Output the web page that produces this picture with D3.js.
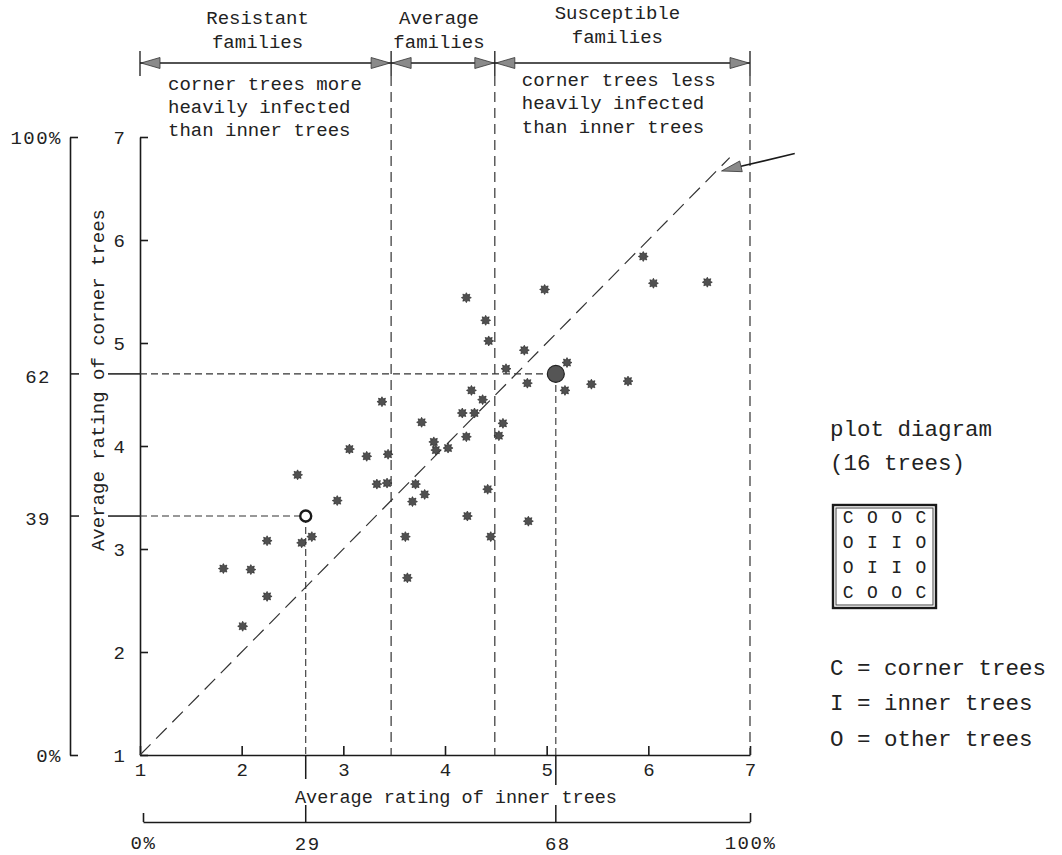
<!DOCTYPE html>
<html>
<head>
<meta charset="utf-8">
<script src="https://cdn.jsdelivr.net/npm/d3@7/dist/d3.min.js"></script>
<style>
  html, body { margin: 0; padding: 0; background: #fff; }
  svg { display: block; }
  text { font-family: "Liberation Mono", "Courier New", monospace; fill: #222; }
</style>
</head>
<body>
<svg id="chart" width="1062" height="855"></svg>
<script>
// ---------------- data ----------------
const innerRating = [1.82,2.09,2.01,2.25,2.25,2.55,2.59,2.69,2.94,3.06,3.23,3.33,3.43,3.44,3.38,3.61,3.63,3.68,3.71,3.80,3.77,3.89,3.91,4.03,
  4.17,4.29,4.21,4.21,4.22,4.26,4.37,4.40,4.43,4.42,4.45,4.53,4.57,4.60,4.78,4.81,4.82,4.98,5.20,5.18,5.44,5.80,5.95,6.05,6.58];
const cornerRating = [2.81,2.80,2.25,3.08,2.54,3.72,3.06,3.12,3.47,3.97,3.90,3.63,3.64,3.92,4.43,3.12,2.72,3.46,3.63,3.53,4.23,4.04,3.96,3.98,
  4.32,4.32,4.09,5.44,3.32,4.54,4.45,5.22,5.02,3.58,3.12,4.10,4.22,4.75,4.93,4.61,3.27,5.52,4.81,4.54,4.60,4.63,5.84,5.58,5.59];
const ratingTicks = [1,2,3,4,5,6,7];
const pctTicks = [0, 100];
// highlighted families
const markedInner = [2.63, 5.09];
const markedCorner = [3.32, 4.70];
const markedPctInner = ["29", "68"];
const markedPctCorner = ["39", "62"];
const markedStyle = ["open", "filled"];
// family class boundaries (on inner-tree rating)
const classBounds = [1, 3.47, 4.49, 7];
const classLabels = [["Resistant","families"],["Average","families"],["Susceptible","families"]];
const noteLeft = ["corner trees more","heavily infected","than inner trees"];
const noteRight = ["corner trees less","heavily infected","than inner trees"];
const diagonalEnds = [1, 6.8];
const arrowFrom = [7.44, 6.84];
const arrowTo = [6.72, 6.67];
const plotGrid = [["C","O","O","C"],["O","I","I","O"],["O","I","I","O"],["C","O","O","C"]];
const legendTitle = ["plot diagram","(16 trees)"];
const legendLines = ["C = corner trees","I = inner trees","O = other trees"];
const xTitle = "Average rating of inner trees";
const yTitle = "Average rating of corner trees";

// ---------------- setup ----------------
const svg = d3.select("#chart");
svg.append("rect").attr("width",1062).attr("height",855).attr("fill","#fff");

const x = d3.scaleLinear().domain([1,7]).range([140,750]);
const y = d3.scaleLinear().domain([1,7]).range([755,137]);
const pctY = d3.scaleLinear().domain([0,100]).range([755,137]);
const pctX = d3.scaleLinear().domain([0,100]).range([143,750]);

const ink = "#1a1a1a";

// ---------------- axes ----------------
const yAxis = svg.append("g").attr("transform",`translate(${x(1)},0)`)
  .call(d3.axisLeft(y).tickValues(ratingTicks).tickFormat(d3.format("d")).tickSize(-8).tickSizeOuter(0).tickPadding(15));
const xAxis = svg.append("g").attr("transform",`translate(0,${y(1)})`)
  .call(d3.axisBottom(x).tickValues(ratingTicks).tickFormat(d3.format("d")).tickSize(-9).tickSizeOuter(0).tickPadding(8));
const pyAxis = svg.append("g").attr("transform",`translate(70,0)`)
  .call(d3.axisLeft(pctY).tickValues(pctTicks).tickFormat(d=>d+"%").tickSize(-8).tickSizeOuter(0).tickPadding(8));
const pxAxis = svg.append("g").attr("transform",`translate(0,822)`)
  .call(d3.axisBottom(pctX).tickValues(pctTicks).tickFormat(d=>d+"%").tickSize(-9).tickSizeOuter(0).tickPadding(14));

[yAxis,xAxis,pyAxis,pxAxis].forEach(g=>{
  g.selectAll(".domain").attr("stroke",ink).attr("stroke-width",1.6);
  g.selectAll(".tick line").attr("stroke",ink).attr("stroke-width",1.6);
  g.selectAll(".tick text").attr("font-family","Liberation Mono, monospace").attr("font-size",19).attr("fill","#222");
});
pyAxis.selectAll(".tick text").attr("letter-spacing",1.5);
pxAxis.selectAll(".tick text").attr("letter-spacing",1.5);

// axis titles
svg.append("text").attr("x",456).attr("y",797).attr("dy","0.35em")
  .attr("text-anchor","middle").attr("font-size",18.5).text(xTitle);
svg.append("text").attr("transform",`translate(97,380) rotate(-90)`).attr("dy","0.35em")
  .attr("text-anchor","middle").attr("font-size",19).text(yTitle);

// ---------------- class boundaries and top brackets ----------------
const bracketY = 63;
classBounds.forEach((b,i)=>{
  svg.append("line").attr("x1",x(b)).attr("x2",x(b)).attr("y1",51).attr("y2",76)
    .attr("stroke",ink).attr("stroke-width",1.3);
  if (i>0) {
    svg.append("line").attr("x1",x(b)).attr("x2",x(b)).attr("y1",76).attr("y2",y(1))
      .attr("stroke","#333").attr("stroke-width",1.2).attr("stroke-dasharray","10,6");
  }
});
svg.append("line").attr("x1",x(classBounds[0])).attr("x2",x(classBounds[3]))
  .attr("y1",bracketY).attr("y2",bracketY).attr("stroke",ink).attr("stroke-width",1.6);
function arrowHead(tipX, tipY, dir){ // dir: -1 pointing left, +1 pointing right
  const L=19, H=5.5;
  return `M${tipX},${tipY} L${tipX - dir*L},${tipY-H} L${tipX - dir*L},${tipY+H} Z`;
}
for (let i=0;i<3;i++){
  const a=x(classBounds[i])+1, b=x(classBounds[i+1])-1;
  svg.append("path").attr("d",arrowHead(a,bracketY,-1)).attr("fill","#8a8a8a").attr("stroke","#333").attr("stroke-width",0.8);
  svg.append("path").attr("d",arrowHead(b,bracketY,1)).attr("fill","#8a8a8a").attr("stroke","#333").attr("stroke-width",0.8);
  const cx=(x(classBounds[i])+x(classBounds[i+1]))/2 - (i===0?8:(i===1?4:5));
  const topY = i===2 ? 12 : 17;
  classLabels[i].forEach((t,j)=>{
    svg.append("text").attr("x",cx).attr("y",topY+j*24).attr("dy","0.35em")
      .attr("text-anchor","middle").attr("font-size",19).text(t);
  });
}
noteLeft.forEach((t,j)=>{
  svg.append("text").attr("x",x(classBounds[0])+28).attr("y",83+j*23).attr("dy","0.35em")
    .attr("font-size",19).text(t);
});
noteRight.forEach((t,j)=>{
  svg.append("text").attr("x",x(classBounds[2])+27).attr("y",79+j*23.5).attr("dy","0.35em")
    .attr("font-size",19).text(t);
});

// ---------------- diagonal ----------------
svg.append("line").attr("x1",x(diagonalEnds[0])).attr("y1",y(diagonalEnds[0]))
  .attr("x2",x(diagonalEnds[1])).attr("y2",y(diagonalEnds[1]))
  .attr("stroke","#333").attr("stroke-width",1.2).attr("stroke-dasharray","15,8");

// annotation arrow
{
  const x1=x(arrowFrom[0]), y1=y(arrowFrom[1]), x2=x(arrowTo[0]), y2=y(arrowTo[1]);
  const ang=Math.atan2(y2-y1,x2-x1), L=20, H=5.5;
  const bx=x2-L*Math.cos(ang), by=y2-L*Math.sin(ang);
  svg.append("line").attr("x1",x1).attr("y1",y1).attr("x2",bx).attr("y2",by)
    .attr("stroke",ink).attr("stroke-width",1.6);
  const px=-Math.sin(ang)*H, py=Math.cos(ang)*H;
  svg.append("path").attr("d",`M${x2},${y2} L${bx+px},${by+py} L${bx-px},${by-py} Z`)
    .attr("fill","#8a8a8a").attr("stroke","#333").attr("stroke-width",0.8);
}

// ---------------- marked families guides ----------------
markedInner.forEach((mi,i)=>{
  const mx=x(mi), my=y(markedCorner[i]);
  svg.append("line").attr("x1",x(1)).attr("x2",mx).attr("y1",my).attr("y2",my)
    .attr("stroke","#333").attr("stroke-width",1.1).attr("stroke-dasharray","7,4");
  svg.append("line").attr("x1",mx).attr("x2",mx).attr("y1",my).attr("y2",y(1))
    .attr("stroke","#333").attr("stroke-width",1.1).attr("stroke-dasharray","7,4");
  svg.append("line").attr("x1",x(1)-32).attr("x2",x(1)).attr("y1",my).attr("y2",my)
    .attr("stroke",ink).attr("stroke-width",1.5);
  svg.append("line").attr("x1",mx).attr("x2",mx).attr("y1",y(1)).attr("y2",y(1)+(i===0?24:30))
    .attr("stroke",ink).attr("stroke-width",1.5);
  svg.append("line").attr("x1",70).attr("x2",79).attr("y1",my).attr("y2",my)
    .attr("stroke",ink).attr("stroke-width",1.5);
  svg.append("text").attr("x",51).attr("y",my+2).attr("dy","0.35em").attr("text-anchor","end")
    .attr("font-size",19).attr("letter-spacing",1.5).text(markedPctCorner[i]);
  svg.append("line").attr("x1",mx).attr("x2",mx).attr("y1",805).attr("y2",822)
    .attr("stroke",ink).attr("stroke-width",1.5);
  svg.append("text").attr("x",mx+2).attr("y",843).attr("dy","0.35em").attr("text-anchor","middle")
    .attr("font-size",19).attr("letter-spacing",1.5).text(markedPctInner[i]);
});

// ---------------- points ----------------
const starSymbol = {
  draw(ctx, size){
    const R=Math.sqrt(size)/2, r=R*0.62, n=8;
    for(let k=0;k<2*n;k++){
      const a=k*Math.PI/n - Math.PI/2, rr = k%2===0?R:r;
      const px=rr*Math.cos(a), py=rr*Math.sin(a);
      if(k===0) ctx.moveTo(px,py); else ctx.lineTo(px,py);
    }
    ctx.closePath();
  }
};
const pts = innerRating.map((v,i)=>({x:v, y:cornerRating[i]}));
svg.append("g").selectAll("path").data(pts).join("path")
  .attr("transform",d=>`translate(${x(d.x)},${y(d.y)})`)
  .attr("d",d3.symbol().type(starSymbol).size(100))
  .attr("fill","#505050").attr("stroke","#222").attr("stroke-width",0.6);

markedInner.forEach((mi,i)=>{
  const c = svg.append("circle").attr("cx",x(mi)).attr("cy",y(markedCorner[i]));
  if (markedStyle[i]==="open") c.attr("r",5.5).attr("fill","#fff").attr("stroke",ink).attr("stroke-width",2.4);
  else c.attr("r",8.5).attr("fill","#555").attr("stroke","#222").attr("stroke-width",1.2);
});

// ---------------- right legend ----------------
legendTitle.forEach((t,j)=>{
  svg.append("text").attr("x",830).attr("y",428+j*34).attr("dy","0.35em").attr("font-size",22.5).text(t);
});
const box={x:833,y:505,s:103};
svg.append("rect").attr("x",box.x).attr("y",box.y).attr("width",box.s).attr("height",box.s)
  .attr("fill","none").attr("stroke",ink).attr("stroke-width",2.4);
svg.append("rect").attr("x",box.x+3).attr("y",box.y+3).attr("width",box.s-6).attr("height",box.s-6)
  .attr("fill","none").attr("stroke","#444").attr("stroke-width",1);
const gx = d3.scaleBand().domain([0,1,2,3]).range([box.x+3, box.x+box.s-3]);
plotGrid.forEach((row,r)=>row.forEach((c,k)=>{
  svg.append("text").attr("x",gx(k)+gx.bandwidth()/2).attr("y",box.y+12+r*25).attr("dy","0.35em")
    .attr("text-anchor","middle").attr("font-size",18).text(c);
}));
legendLines.forEach((t,j)=>{
  svg.append("text").attr("x",830).attr("y",667+j*35.5).attr("dy","0.35em").attr("font-size",22.5).text(t);
});
</script>
</body>
</html>
